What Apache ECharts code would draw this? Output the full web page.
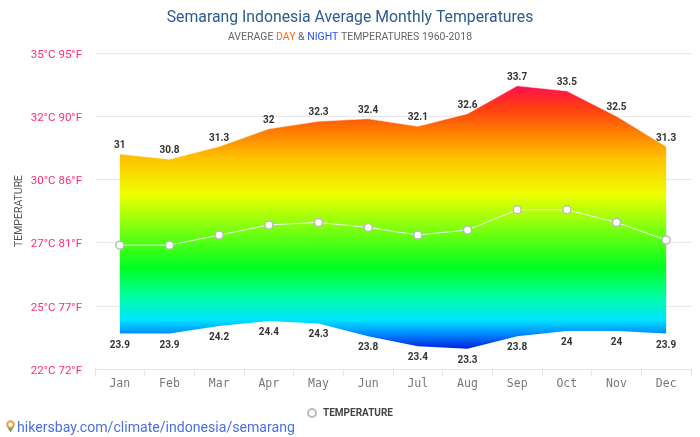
<!DOCTYPE html>
<html><head><meta charset="utf-8">
<style>html,body{margin:0;padding:0;background:#fff}#c{width:700px;height:437px}</style>
<script src="https://cdn.jsdelivr.net/npm/echarts@6/dist/echarts.min.js"></script>
</head><body><div id="c"></div>
<script>
const months = ['Jan','Feb','Mar','Apr','May','Jun','Jul','Aug','Sep','Oct','Nov','Dec'];
const dayTemps = [31,30.8,31.3,32,32.3,32.4,32.1,32.6,33.7,33.5,32.5,31.3];
const nightTemps = [23.9,23.9,24.2,24.4,24.3,23.8,23.4,23.3,23.8,24,24,23.9];
const meanTemps = [27.4,27.4,27.8,28.2,28.3,28.1,27.8,28,28.8,28.8,28.3,27.6];
const yTickLabels = {'22.5':'22°C 72°F','25':'25°C 77°F','27.5':'27°C 81°F','30':'30°C 86°F','32.5':'32°C 90°F','35':'35°C 95°F'};
const bandHeights = dayTemps.map((v,i)=>+(v-nightTemps[i]).toFixed(1));
const gradient = [[0,'#ff0f50'],[0.08,'#ff3a14'],[0.17,'#ff7a00'],[0.27,'#ffc000'],[0.41,'#f0ff00'],[0.69,'#00ff20'],[0.8,'#00ffa0'],[0.89,'#00e4ff'],[0.94,'#0090ff'],[1,'#0020e0']];
const chart = echarts.init(document.getElementById('c'),null,{renderer:'canvas'});
const labelBase = {fontFamily:'Roboto',fontSize:10,fontWeight:'bold',color:'#333',opacity:1};
const hiddenPoint = {symbol:'circle',symbolSize:1,showSymbol:true,itemStyle:{color:'rgba(0,0,0,0)',borderWidth:0}};
chart.setOption({
  animation:false,
  textStyle:{fontFamily:'Roboto'},
  title:{left:'center',top:5,text:'Semarang Indonesia Average Monthly Temperatures',
    textStyle:{fontFamily:'Roboto',fontSize:15.8,fontWeight:400,color:'#2b5c8f'},
    subtext:'AVERAGE {d|DAY} & {n|NIGHT} TEMPERATURES 1960-2018',itemGap:6,
    subtextStyle:{fontFamily:'Roboto',fontSize:10.5,color:'#666',rich:{d:{color:'#ff6a1a',fontSize:10.5,fontFamily:'Roboto'},n:{color:'#2a50f0',fontSize:10.5,fontFamily:'Roboto'}}}},
  legend:{left:'center',top:403,data:[{name:'TEMPERATURE',icon:'circle'}],itemWidth:8,itemHeight:8,itemGap:5,
    textStyle:{fontFamily:'Roboto',fontSize:10,fontWeight:'bold',color:'#444',padding:[0,0,0,2]}},
  grid:{left:95,right:9,top:53,bottom:68,outerBoundsMode:'none'},
  xAxis:{type:'category',data:months,boundaryGap:true,
    axisLine:{lineStyle:{color:'#dde5f5'}},axisTick:{show:true,length:7,lineStyle:{color:'#dde5f5'}},
    axisLabel:{fontFamily:'DejaVu Sans Mono',fontSize:11.5,color:'#777',margin:9},splitLine:{show:false}},
  yAxis:{type:'value',min:22.5,max:35,interval:2.5,name:'TEMPERATURE',nameLocation:'middle',nameGap:70,nameMoveOverlap:false,
    nameTextStyle:{fontFamily:'Roboto',fontSize:10.5,color:'#555'},
    axisLine:{show:false},axisTick:{show:false},
    splitLine:{lineStyle:{color:'#e8e8e8'}},
    axisLabel:{margin:13,fontFamily:'Roboto',fontSize:11.5,color:'#ff2e6e',verticalAlign:'top',lineHeight:4,formatter:v=>yTickLabels[String(v)]}},
  series:[
    {name:'night',type:'line',stack:'band',data:nightTemps,...hiddenPoint,silent:true,lineStyle:{opacity:0},
     label:{show:true,position:'bottom',distance:6,...labelBase}},
    {name:'day',type:'line',stack:'band',data:bandHeights,...hiddenPoint,silent:true,
     lineStyle:{color:'#ffffff',width:1,opacity:0.5},
     areaStyle:{opacity:1,color:new echarts.graphic.LinearGradient(0,0,0,1,gradient.map(g=>({offset:g[0],color:g[1]})))},
     label:{show:true,position:'top',distance:3,...labelBase,formatter:p=>dayTemps[p.dataIndex]}},
    {name:'TEMPERATURE',type:'line',data:meanTemps,symbol:'circle',symbolSize:8,
     lineStyle:{color:'#f4f4f4',width:1},
     itemStyle:{color:'#fff',borderColor:'#bbb',borderWidth:1.5}}
  ],
  graphic:[
    {type:'text',left:17,top:421,style:{text:'hikersbay.com/climate/indonesia/semarang',fontFamily:'Roboto',fontSize:14.1,fill:'#4a70e0'}},
    {type:'polygon',shape:{points:[[7.2,427],[13.8,427],[10.5,432.5]]},style:{fill:'#6a9a70'}},
    {type:'circle',shape:{cx:10.5,cy:424.5,r:3.2},style:{fill:'#fff',stroke:'#ee9a3a',lineWidth:2}}
  ]
});
</script></body></html>
